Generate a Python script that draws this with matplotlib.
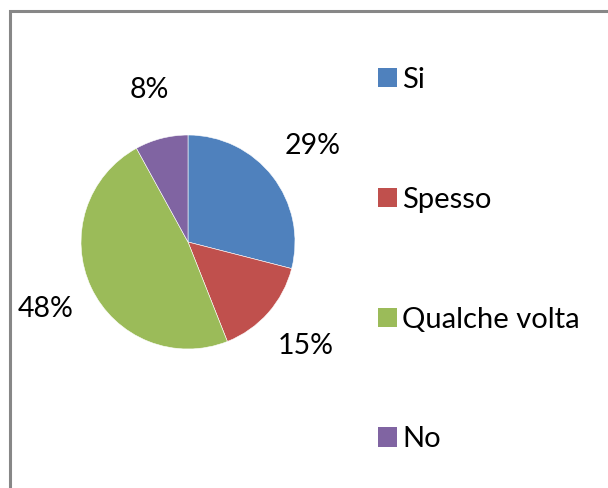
import matplotlib.pyplot as plt
from matplotlib.patches import Patch, Rectangle

# Data
categories = ["Si", "Spesso", "Qualche volta", "No"]
values = [29, 15, 48, 8]
colors = ["#4F81BD", "#C0504D", "#9BBB59", "#8064A2"]

plt.rcParams['font.family'] = ['Lato', 'DejaVu Sans']

W, H = 608, 488
fig = plt.figure(figsize=(W / 100, H / 100), dpi=100)

# gray frame (top and left edges visible in the crop)
fig.patches.append(Rectangle((9.5 / W, -0.1), 1.2, 1.1 - 10.5 / H, transform=fig.transFigure,
                             fill=False, edgecolor="#878787", linewidth=2.2))

# pie axes: center ~ (188, 242) px, radius ~107 px
cx, cy, r = 188, 242, 107
ax = fig.add_axes([(cx - r) / W, (H - cy - r) / H, 2 * r / W, 2 * r / H])
ax.pie(values, colors=colors, startangle=90, counterclock=False,
       autopct=lambda p: f"{p:.0f}%", pctdistance=1.47, radius=1,
       wedgeprops=dict(edgecolor="white", linewidth=0.4),
       textprops=dict(fontsize=20.5, color="black"))
ax.set_xlim(-1, 1)
ax.set_ylim(-1, 1)
ax.set_aspect("equal")

# legend
handles = [Patch(facecolor=c, edgecolor="none") for c in colors]
fig.legend(handles, categories, loc="upper left", bbox_to_anchor=(366 / W, 1 - 55 / H),
           frameon=False, fontsize=21, handlelength=0.65, handleheight=0.65,
           handletextpad=0.2, labelspacing=3.22, borderaxespad=0)

plt.savefig("out.png", dpi=100)
